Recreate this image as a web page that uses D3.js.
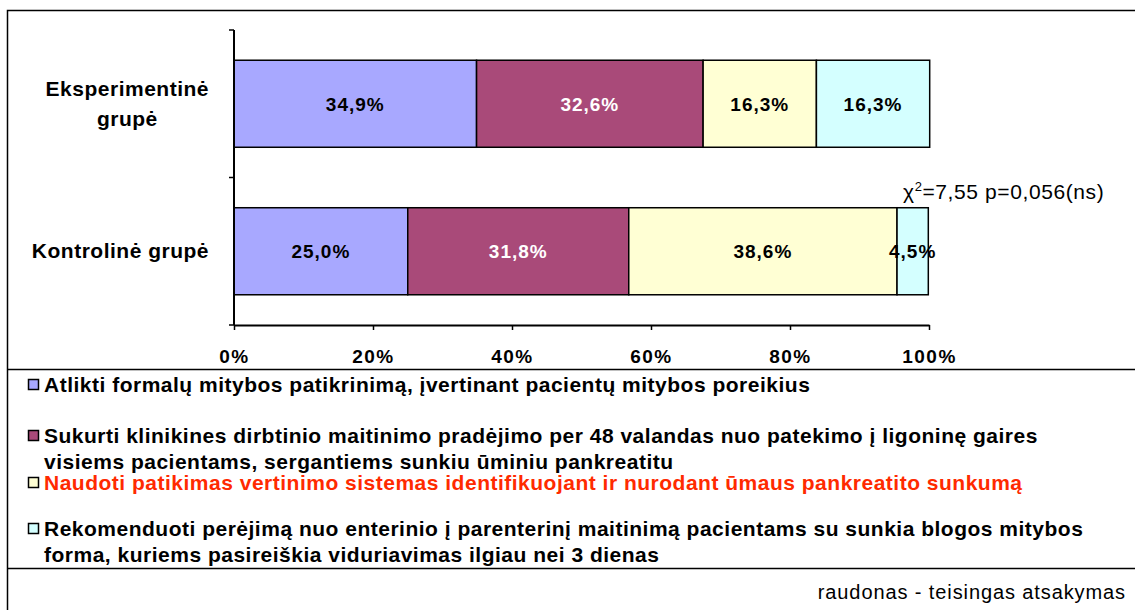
<!DOCTYPE html>
<html>
<head>
<meta charset="utf-8">
<script src="https://cdn.jsdelivr.net/npm/d3@7"></script>
<style>
  body { margin: 0; background: #fff; }
  svg { display: block; font-family: "Liberation Sans", Arial, sans-serif; }
</style>
</head>
<body>
<div id="chart"></div>
<script>
// data
var groups = ["Eksperimentinė grupė", "Kontrolinė grupė"];
var groupLines = [["Eksperimentinė", "grupė"], ["Kontrolinė grupė"]];
var seriesNames = [
  ["Atlikti formalų mitybos patikrinimą, įvertinant pacientų mitybos poreikius"],
  ["Sukurti klinikines dirbtinio maitinimo pradėjimo per 48 valandas nuo patekimo į ligoninę gaires",
   "visiems pacientams, sergantiems sunkiu ūminiu pankreatitu"],
  ["Naudoti patikimas vertinimo sistemas identifikuojant ir nurodant ūmaus pankreatito sunkumą"],
  ["Rekomenduoti perėjimą nuo enterinio į parenterinį maitinimą pacientams su sunkia blogos mitybos",
   "forma, kuriems pasireiškia viduriavimas ilgiau nei 3 dienas"]
];
var experimentinė = [34.9, 32.6, 16.3, 16.3];
var kontrolinė = [25.0, 31.8, 38.6, 4.5];
var xTicks = [0, 20, 40, 60, 80, 100];
var statText = "=7,55 p=0,056(ns)";
var noteText = "raudonas - teisingas atsakymas";

var colors = ["#a8a8ff", "#a94a79", "#ffffd4", "#d4ffff"];
var labelColors = ["#000", "#fff", "#000", "#000"];
var legendColors = ["#000", "#000", "#ff2a00", "#000"];

var W = 1135, H = 610;
var svg = d3.select("#chart").append("svg")
  .attr("width", W)
  .attr("height", H);

// frame
svg.append("rect").attr("x", 7.5).attr("y", 10.5).attr("width", W).attr("height", H)
  .style("fill", "none").style("stroke", "#000").style("stroke-width", 1.5);
svg.append("line").attr("x1", 7).attr("x2", W).attr("y1", 369.5).attr("y2", 369.5)
  .style("stroke", "#000").style("stroke-width", 1.5);
svg.append("line").attr("x1", 7).attr("x2", W).attr("y1", 568.5).attr("y2", 568.5)
  .style("stroke", "#000").style("stroke-width", 1.5);

var x = d3.scaleLinear().domain([0, 100]).range([234, 929]);
var y = d3.scaleBand().domain(groups).range([30, 325]).paddingInner(0.41).paddingOuter(0.205);

// stacked values
var rows = [experimentinė, kontrolinė];
var stackData = [];
rows.forEach(function (vals, gi) {
  var cum = 0;
  vals.forEach(function (v, si) {
    stackData.push({ group: groups[gi], s: si, x0: cum, x1: cum + v, v: v });
    cum += v;
  });
});

svg.selectAll("rect.seg").data(stackData).enter().append("rect")
  .attr("class", "seg")
  .attr("x", function (d) { return x(d.x0); })
  .attr("y", function (d) { return y(d.group); })
  .attr("width", function (d) { return x(d.x1) - x(d.x0); })
  .attr("height", y.bandwidth())
  .style("fill", function (d) { return colors[d.s]; })
  .style("stroke", "#000").style("stroke-width", 1.5);

svg.selectAll("text.val").data(stackData).enter().append("text")
  .attr("class", "val")
  .attr("x", function (d) { return x((d.x0 + d.x1) / 2); })
  .attr("y", function (d) { return y(d.group) + y.bandwidth() / 2 + 7; })
  .attr("text-anchor", "middle")
  .style("font-size", "19px").style("font-weight", "bold").style("letter-spacing", "1px")
  .style("fill", function (d) { return labelColors[d.s]; })
  .text(function (d) { return d.v.toFixed(1).replace(".", ",") + "%"; });

// y axis
svg.append("line").attr("x1", 234).attr("x2", 234).attr("y1", 30).attr("y2", 325)
  .style("stroke", "#000").style("stroke-width", 2);
var yTicks = [30, y(groups[1]) - y.step() * 0.205, 325];
svg.selectAll("line.ytick").data(yTicks).enter().append("line")
  .attr("x1", 229).attr("x2", 234).attr("y1", function (d) { return d; }).attr("y2", function (d) { return d; })
  .style("stroke", "#000").style("stroke-width", 1.5);

// x axis
var xAxis = svg.append("g").attr("transform", "translate(0,325)")
  .call(d3.axisBottom(x).tickValues(xTicks).tickSize(5).tickSizeOuter(0)
    .tickFormat(function (d) { return d + "%"; }));
xAxis.select(".domain").style("stroke", "#000").style("stroke-width", 2);
xAxis.selectAll(".tick line").style("stroke", "#000").style("stroke-width", 1.5);
xAxis.selectAll(".tick text")
  .attr("y", 38).attr("dy", 0)
  .style("font-family", "Liberation Sans, Arial, sans-serif")
  .style("font-size", "19px").style("font-weight", "bold").style("letter-spacing", "1.5px")
  .style("fill", "#000");

// category labels
groupLines.forEach(function (lines, gi) {
  var cy = y(groups[gi]) + y.bandwidth() / 2;
  var t = svg.append("text")
    .style("font-size", "21px").style("font-weight", "bold").style("letter-spacing", "0.5px")
    .attr("text-anchor", "middle");
  var n = lines.length;
  lines.forEach(function (ln, li) {
    t.append("tspan").attr("x", 0)
      .attr("y", cy + 7 + (li - (n - 1) / 2) * 30)
      .text(ln);
  });
  var w = 0;
  t.selectAll("tspan").each(function () { w = Math.max(w, this.getComputedTextLength()); });
  t.selectAll("tspan").attr("x", 209 - w / 2);
});

// statistic
var st = svg.append("text").attr("x", 903).attr("y", 199)
  .style("font-size", "21px").style("letter-spacing", "0.6px");
st.append("tspan").text("χ");
st.append("tspan").attr("dy", -8).style("font-size", "13px").text("2");
st.append("tspan").attr("dy", 8).text(statText);

// legend
var legendY = [392, 443, 490, 536];
seriesNames.forEach(function (lines, i) {
  svg.append("rect").attr("x", 28.5).attr("y", legendY[i] - 12.5).attr("width", 10).attr("height", 10)
    .style("fill", colors[i]).style("stroke", "#000").style("stroke-width", 1.5);
  lines.forEach(function (ln, li) {
    svg.append("text").attr("x", 44).attr("y", legendY[i] + li * 26)
      .style("font-size", "21px").style("font-weight", "bold").style("letter-spacing", "0.5px")
      .style("fill", legendColors[i])
      .text(ln);
  });
});

// note
svg.append("text").attr("x", 1126).attr("y", 599).attr("text-anchor", "end")
  .style("font-size", "20px").style("letter-spacing", "0.9px").text(noteText);
</script>
</body>
</html>
